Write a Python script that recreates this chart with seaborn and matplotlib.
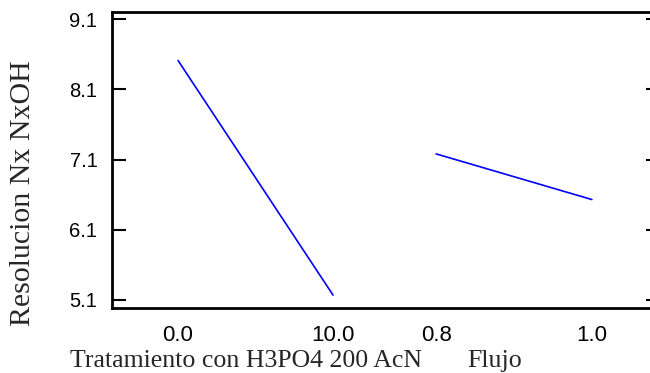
import matplotlib
matplotlib.use("Agg")
import matplotlib.pyplot as plt
import seaborn as sns
import pandas as pd

# Data (main effects)
factor1_levels = ["0.0", "10.0"]
factor1_means = [8.51, 5.17]
factor2_levels = ["0.8", "1.0"]
factor2_means = [7.18, 6.53]
yticks = [5.1, 6.1, 7.1, 8.1, 9.1]

# positions on combined axis
pos1 = [0.0, 1.0]
pos2 = [1.665, 2.67]

df = pd.DataFrame({
    "pos": pos1 + pos2,
    "mean": factor1_means + factor2_means,
    "factor": ["Tratamiento"] * 2 + ["Flujo"] * 2,
})

sns.set_theme(style="white")
plt.rcParams["font.family"] = ["Liberation Sans", "DejaVu Sans"]

fig = plt.figure(figsize=(6.5, 3.73), dpi=100)
ax = fig.add_axes([112/650, 1-308/373, (650-112)/650, (308-12)/373])

sns.lineplot(data=df, x="pos", y="mean", units="factor", estimator=None,
             color="#0000ff", lw=1.2, ax=ax, legend=False)

ax.set_xlim(-0.426, 3.045)
ax.set_ylim(4.986, 9.2)

ax.set_yticks(yticks)
ax.set_yticklabels([f"{v:.1f}" for v in yticks])
ax.set_yticks(yticks, minor=True)
ax.yaxis.remove_overlapping_locs = False
ax.set_xticks(pos1 + pos2)
ax.set_xticklabels(factor1_levels + factor2_levels)

ax.tick_params(axis="x", which="major", length=0, pad=12, labelsize=16, labelcolor="black")
ax.tick_params(axis="y", which="major", direction="in", length=10, width=1.5,
               left=True, right=False, pad=10.5, labelsize=14.5, labelcolor="black",
               color="black")
ax.tick_params(axis="y", which="minor", direction="in", length=3, width=1.5,
               left=False, right=True, labelleft=False, labelright=False, color="black")
ax.set_xlabel("")
ax.set_ylabel("")

for s in ["left", "bottom", "top"]:
    ax.spines[s].set_visible(True)
    ax.spines[s].set_color("black")
    ax.spines[s].set_linewidth(2)
ax.spines["right"].set_visible(False)

fig.text(23/650, 1-193/373, "Resolucion Nx NxOH", rotation=90, ha="center", va="center",
         family="Liberation Serif", fontsize=21.5)
fig.text(70/650, 1-367/373, "Tratamiento con H3PO4 200 AcN", ha="left", va="baseline",
         family="Liberation Serif", fontsize=18.6)
fig.text(467/650, 1-367/373, "Flujo", ha="left", va="baseline",
         family="Liberation Serif", fontsize=18.6)

fig.savefig("out.png", dpi=100)
